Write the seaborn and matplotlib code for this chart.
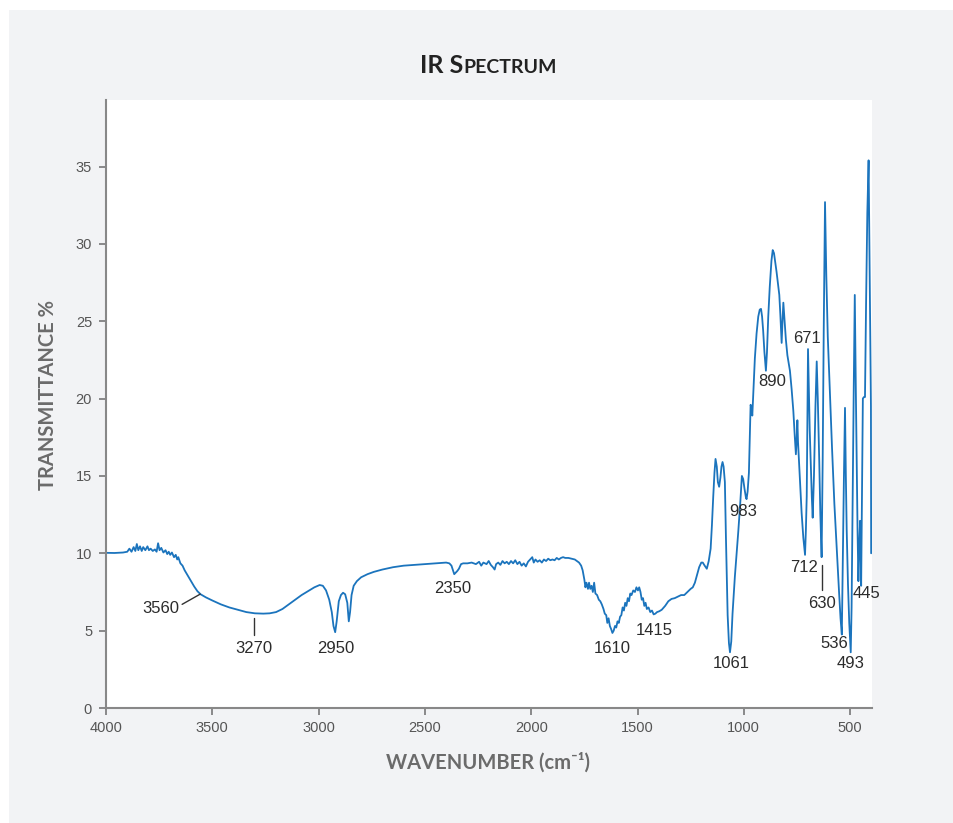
import matplotlib
matplotlib.use("Agg")
import matplotlib.pyplot as plt
import matplotlib.patches as mpatches
import pandas as pd
import seaborn as sns

# Spectrum (wavenumber cm-1, transmittance %)
wavenumber = [
    4000, 3960, 3920, 3900, 3890, 3880, 3870, 3862, 3855, 3848, 3840, 3832, 3825, 3815,
    3805, 3798, 3790, 3780, 3770, 3762, 3755, 3748, 3740, 3730, 3720, 3712, 3705, 3698,
    3690, 3680, 3672, 3665, 3660, 3650, 3640, 3630, 3615, 3600, 3585, 3570, 3555, 3530,
    3500, 3460, 3420, 3380, 3340, 3300, 3260, 3230, 3200, 3170, 3140, 3110, 3080, 3050,
    3020, 2995, 2980, 2965, 2950, 2938, 2930, 2922, 2915, 2905, 2895, 2885, 2875, 2865,
    2858, 2852, 2845, 2835, 2820, 2800, 2770, 2740, 2700, 2650, 2600, 2550, 2500, 2450,
    2400, 2385, 2375, 2368, 2362, 2355, 2348, 2340, 2330, 2320,
    2300, 2280, 2260, 2245, 2235, 2225, 2210, 2200, 2190, 2180, 2172, 2165, 2155, 2145,
    2135, 2125, 2115, 2105, 2095, 2085, 2075, 2065, 2055, 2045, 2035, 2025, 2015, 2005,
    1995, 1988, 1980, 1970, 1960, 1950, 1940, 1930, 1920, 1910, 1900, 1890, 1880, 1870,
    1860, 1850, 1840, 1825, 1810, 1795, 1785, 1775, 1765, 1758, 1750, 1745, 1740, 1733,
    1728, 1722, 1716, 1710, 1704, 1698, 1690, 1682, 1675, 1668, 1660, 1654, 1647, 1642,
    1636, 1630, 1624, 1618, 1612, 1606, 1600, 1594, 1588, 1582, 1576, 1570, 1564, 1558,
    1552, 1546, 1540, 1534, 1528, 1520, 1512, 1505, 1498, 1492, 1486, 1480, 1474, 1468,
    1462, 1456, 1448, 1440, 1432, 1424, 1416, 1408, 1398, 1386, 1370, 1355, 1340, 1325,
    1310, 1295, 1280, 1265, 1250, 1240, 1230, 1220, 1210, 1200, 1193, 1184, 1174, 1165,
    1156, 1150, 1144, 1138, 1133, 1127, 1122, 1116, 1110, 1105, 1100, 1095, 1089, 1084,
    1076, 1070, 1065, 1059, 1053, 1042, 1026, 1016, 1009, 1003, 997, 990, 987, 982,
    976, 972, 968, 964, 960, 955, 948, 940, 932, 925, 919, 914, 909, 903,
    896, 891, 885, 878, 870, 864, 858, 852, 846, 840, 833, 828, 822, 818,
    814, 808, 802, 795, 783, 775, 767, 760, 755, 751, 748, 745, 742, 735,
    728, 720, 712, 708, 704, 701, 698, 694, 690, 685, 680, 676, 670, 663,
    657, 652, 645, 640, 634, 629, 624, 618, 612, 605, 595, 585, 574, 563,
    552, 545, 539, 534, 529, 524, 520, 516, 510, 504, 497, 493, 488, 483,
    478, 473, 469, 465, 461, 457, 453, 450, 448, 444, 440, 435, 430, 425,
    419, 413, 409, 405, 402, 401,
]
transmittance = [
    10.03, 10.02, 10.05, 10.1, 10.3, 10.1, 10.4, 10.15, 10.6, 10.2, 10.45, 10.15, 10.4, 10.2,
    10.45, 10.2, 10.3, 10.15, 10.25, 10.1, 10.65, 10.2, 10.35, 10.05, 10.2, 9.95, 10.1, 9.9,
    10.05, 9.75, 9.9, 9.6, 9.75, 9.35, 9.2, 8.9, 8.55, 8.2, 7.85, 7.55, 7.35, 7.15,
    6.95, 6.7, 6.5, 6.35, 6.2, 6.12, 6.1, 6.12, 6.2, 6.4, 6.7, 7.0, 7.3, 7.55,
    7.8, 7.95, 7.9, 7.6, 7.0, 6.2, 5.3, 4.9, 5.6, 6.9, 7.3, 7.45, 7.35, 6.8,
    5.6, 6.2, 7.3, 7.9, 8.2, 8.45, 8.65, 8.8, 8.95, 9.1, 9.2, 9.25, 9.3, 9.35,
    9.4, 9.35, 9.2, 8.9, 8.65, 8.75, 8.85, 9.0, 9.3, 9.35,
    9.35, 9.4, 9.3, 9.45, 9.2, 9.4, 9.3, 9.5, 9.25, 9.1, 8.95, 9.3, 9.4, 9.25,
    9.5, 9.35, 9.45, 9.3, 9.5, 9.35, 9.55, 9.3, 9.45, 9.2, 9.35, 9.15, 9.45, 9.6,
    9.75, 9.4, 9.6, 9.45, 9.55, 9.4, 9.6, 9.5, 9.65, 9.55, 9.6, 9.55, 9.7, 9.6,
    9.7, 9.75, 9.7, 9.7, 9.65, 9.6, 9.5, 9.4, 9.2, 8.9, 8.3, 7.8, 8.1, 7.7,
    8.1, 7.7, 7.9, 7.5, 8.1, 7.4, 7.3, 7.0, 6.9, 6.7, 6.4, 6.1, 6.0, 5.5,
    5.8, 5.3, 5.1, 4.85, 5.0, 5.3, 5.2, 5.6, 5.5, 5.9, 6.0, 6.5, 6.3, 6.8,
    6.6, 7.1, 6.9, 7.4, 7.3, 7.6, 7.5, 7.8, 7.6, 7.8, 7.5, 7.0, 7.1, 6.6,
    6.8, 6.4, 6.5, 6.2, 6.3, 6.05, 6.1, 6.2, 6.25, 6.35, 6.6, 6.9, 7.05, 7.1,
    7.2, 7.3, 7.3, 7.5, 7.7, 7.8, 8.1, 8.6, 9.1, 9.4, 9.4, 9.2, 9.0, 9.5,
    10.3, 11.8, 13.6, 15.2, 16.1, 15.6, 14.6, 14.3, 14.9, 15.6, 15.9, 15.6, 14.6, 11.0,
    6.0, 4.2, 3.6, 4.3, 6.1, 8.5, 11.4, 13.4, 15.0, 14.8, 14.2, 13.6, 13.5, 14.0,
    15.2, 17.5, 19.6, 19.4, 18.9, 20.5, 22.6, 24.2, 25.3, 25.75, 25.8, 25.3, 24.4, 23.0,
    21.8, 23.0, 25.3, 27.2, 28.9, 29.6, 29.4, 28.8, 28.2, 27.5, 26.7, 25.4, 23.6, 25.0,
    26.2, 25.0, 23.8, 22.8, 21.8, 20.6, 19.2, 17.5, 16.4, 17.5, 18.6, 17.2, 16.4, 14.5,
    12.6, 11.0, 9.9, 11.5, 13.7, 18.0, 23.2, 20.5, 18.0, 15.9, 13.6, 12.3, 15.0, 19.5,
    22.4, 20.0, 15.9, 12.5, 9.75, 16.0, 24.5, 32.7, 28.0, 24.0, 20.4, 16.8, 13.2, 10.3,
    7.5, 5.8, 4.75, 10.0, 15.0, 19.4, 15.0, 11.5, 8.0, 5.5, 3.6, 6.5, 13.6, 20.5,
    26.7, 20.5, 15.9, 11.5, 8.2, 10.5, 12.1, 9.5, 7.9, 14.0, 20.0, 20.1, 20.1, 26.0,
    32.0, 35.4, 30.0, 24.0, 19.5, 10.0,
]

# Peak labels and where they sit
peak_labels = ["3560", "3270", "2950", "2350", "1610", "1415", "1061", "983",
               "890", "671", "712", "630", "536", "493", "445"]
label_x = [3741, 3303, 2921, 2370, 1617, 1419, 1061, 1001, 868, 703, 717, 632, 576, 496, 425]
label_y = [6.4, 3.87, 3.87, 7.75, 3.87, 5.04, 2.9, 12.7, 21.1, 23.9, 9.1, 6.78, 4.2, 2.9, 7.4]

df = pd.DataFrame({"wavenumber": wavenumber, "transmittance": transmittance})

sns.set_style("ticks")
plt.rcParams["font.family"] = ["Liberation Sans", "DejaVu Sans"]

fig = plt.figure(figsize=(9.54, 8.23), dpi=100, facecolor="white")
# grey panel behind everything
fig.patches.append(mpatches.Rectangle((9 / 954, 0), 1, 1 - 10 / 823,
                                      transform=fig.transFigure, facecolor="#f2f3f5",
                                      edgecolor="none", zorder=-10))
ax = fig.add_axes([106 / 954, 1 - 708 / 823, 766 / 954, 608 / 823])
ax.set_facecolor("white")

sns.lineplot(data=df, x="wavenumber", y="transmittance", color="#1b74bd",
             linewidth=1.3, estimator=None, ax=ax)

ax.set_xlim(4000, 397)
ax.set_ylim(0, 39.3)
ax.set_xticks([4000, 3500, 3000, 2500, 2000, 1500, 1000, 500])
ax.set_yticks([0, 5, 10, 15, 20, 25, 30, 35])
ax.tick_params(axis="both", colors="#777777", labelcolor="#555555", labelsize=10.5,
               length=5, width=1.2)
ax.tick_params(axis="y", pad=5)
ax.tick_params(axis="x", pad=4)
for s in ["top", "right"]:
    ax.spines[s].set_visible(False)
for s in ["left", "bottom"]:
    ax.spines[s].set_color("#888888")
    ax.spines[s].set_linewidth(1.5)

ax.set_xlabel("")
ax.set_ylabel("")
fig.text(488 / 954, 1 - 763 / 823, "WAVENUMBER (cm\u207b\u00b9)", ha="center", va="center",
         fontsize=14.5, fontweight="bold", color="#6b6b6b", family=["Lato", "DejaVu Sans"])
fig.text(48 / 954, 1 - 395 / 823, "TRANSMITTANCE %", ha="center", va="center",
         rotation=90, fontsize=14.5, fontweight="bold", color="#6b6b6b",
         family=["Lato", "DejaVu Sans"])

# small-caps title
fig.text(463 / 954, 1 - 73 / 823, "IR S", ha="right", va="baseline", fontsize=18,
         fontweight="bold", color="#222222", family=["Lato", "DejaVu Sans"])
fig.text(463 / 954, 1 - 73 / 823, "PECTRUM", ha="left", va="baseline", fontsize=14,
         fontweight="bold", color="#222222", family=["Lato", "DejaVu Sans"])

for lab, lx, ly in zip(peak_labels, label_x, label_y):
    ax.text(lx, ly, lab, ha="center", va="center", fontsize=12, color="#2b2b2b")

# leader lines
ax.plot([3642, 3557], [6.7, 7.36], color="#333333", lw=1)
ax.plot([3303, 3303], [4.71, 5.81], color="#333333", lw=1)
ax.plot([632, 632], [7.62, 9.23], color="#333333", lw=1)

fig.savefig("out.png", dpi=100, facecolor=fig.get_facecolor())
